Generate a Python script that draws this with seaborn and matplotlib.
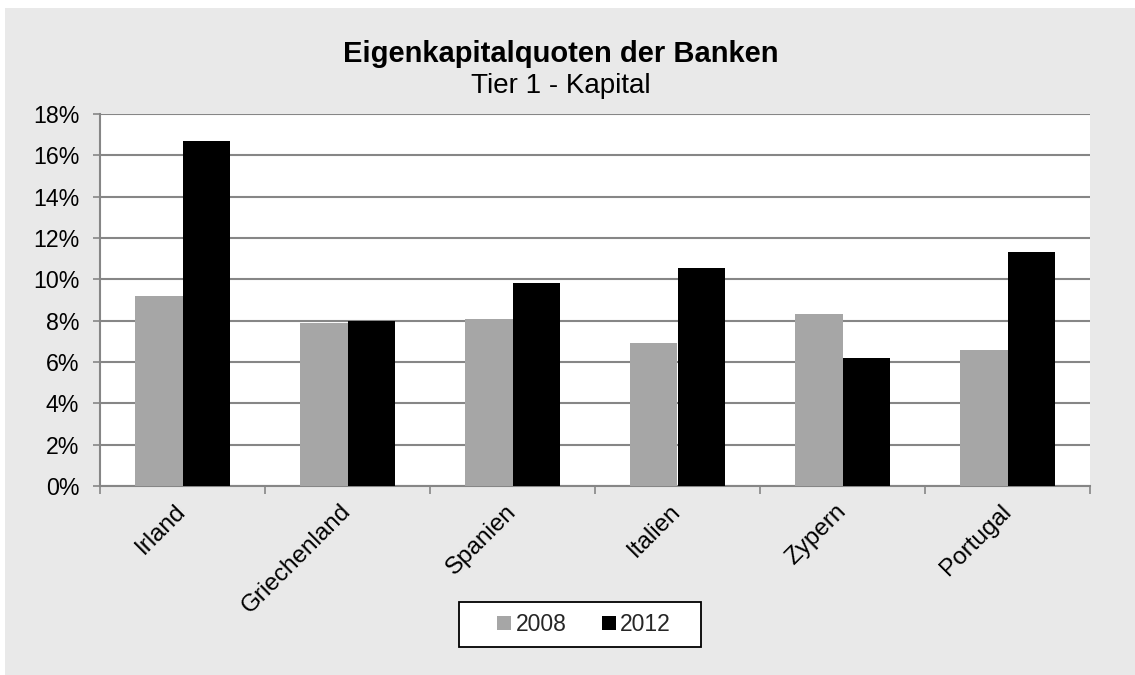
import matplotlib
matplotlib.use("Agg")
import matplotlib.pyplot as plt
import seaborn as sns
import pandas as pd
from matplotlib.patches import Rectangle
from matplotlib.ticker import FuncFormatter, MultipleLocator

countries = ["Irland", "Griechenland", "Spanien", "Italien", "Zypern", "Portugal"]
years = ["2008", "2012"]
values_2008 = [9.2, 7.9, 8.1, 6.9, 8.3, 6.6]
values_2012 = [16.7, 8.0, 9.8, 10.55, 6.2, 11.3]
title = "Eigenkapitalquoten der Banken"
subtitle = "Tier 1 - Kapital"

df = pd.DataFrame({
    "Land": countries * 2,
    "Jahr": [years[0]] * len(countries) + [years[1]] * len(countries),
    "Wert": values_2008 + values_2012,
})

sns.set_theme(style="white")
plt.rcParams["font.family"] = ["Liberation Sans", "DejaVu Sans"]

W, H = 1135, 675
fig = plt.figure(figsize=(W / 100, H / 100), dpi=100)
fig.patch.set_facecolor("white")
bg = "#e9e9e9"
fig.patches.append(Rectangle((5 / W, 0), 1, (H - 8) / H, transform=fig.transFigure,
                             facecolor=bg, edgecolor="none", zorder=-10))

ax = fig.add_axes([100 / W, 1 - 486 / H, 990 / W, (486 - 114) / H])
ax.set_facecolor("white")

sns.barplot(data=df, x="Land", y="Wert", hue="Jahr", order=countries, hue_order=years,
            palette={"2008": "#a6a6a6", "2012": "#000000"}, width=0.57, gap=0,
            saturation=1, ax=ax, legend=True, zorder=3, linewidth=0)

ax.set_ylim(0, 18)
ax.set_xlim(-0.5, len(countries) - 0.5)
ax.yaxis.set_major_locator(MultipleLocator(2))
ax.yaxis.set_major_formatter(FuncFormatter(lambda v, p: f"{v:.0f}%"))
ax.grid(axis="y", color="#868686", linewidth=1.5, zorder=0)
ax.set_axisbelow(True)
ax.set_xlabel("")
ax.set_ylabel("")

for s in ["top", "right"]:
    ax.spines[s].set_visible(False)
for s in ["left", "bottom"]:
    ax.spines[s].set_color("#868686")
    ax.spines[s].set_linewidth(1.5)

ax.tick_params(axis="y", which="major", left=True, length=5, width=1.2, color="#868686",
               labelsize=16.7, labelcolor="black", pad=10)
ax.set_xticks([i for i in range(len(countries))])
ax.set_xticklabels(countries, rotation=45, ha="right", va="center", rotation_mode="anchor",
                   fontsize=17.5, color="black")
ax.tick_params(axis="x", which="major", bottom=False, pad=10)
ax.set_xticks([i - 0.5 for i in range(len(countries) + 1)], minor=True)
ax.tick_params(axis="x", which="minor", bottom=True, length=6, width=1.2, color="#868686")

cx = 561 / W
fig.text(cx, 1 - 62 / H, title, ha="center", va="baseline", fontsize=21,
         fontweight="bold", color="black")
fig.text(cx, 1 - 93 / H, subtitle, ha="center", va="baseline", fontsize=20, color="black")

handles, labels = ax.get_legend_handles_labels()
ax.get_legend().remove()
leg = fig.legend(handles, labels, loc="center", bbox_to_anchor=(584 / W, 1 - 624.5 / H),
                 ncol=2, frameon=False, fontsize=16.5,
                 handlelength=0.6, handleheight=0.6, handletextpad=0.2,
                 columnspacing=1.55, borderpad=0.3, borderaxespad=0)
fig.patches.append(Rectangle((459 / W, 1 - 647 / H), (701 - 459) / W, 45 / H,
                             transform=fig.transFigure, facecolor="white",
                             edgecolor="black", linewidth=1.3, zorder=-5))

fig.savefig("out.png", dpi=100, facecolor=fig.get_facecolor())
